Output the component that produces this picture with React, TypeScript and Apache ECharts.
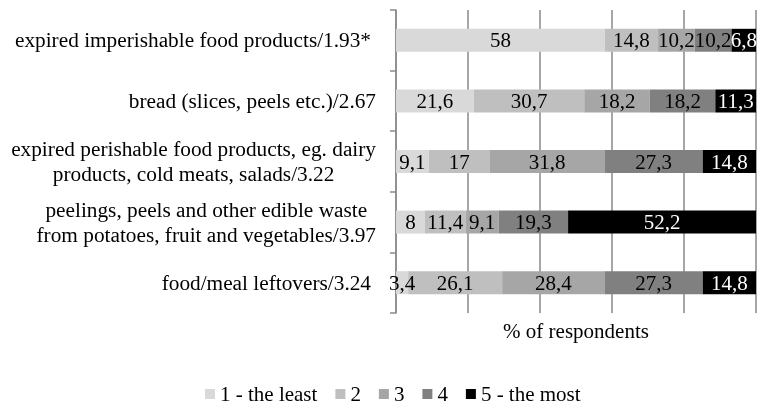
import React, { useEffect, useRef } from "react";
import * as echarts from "echarts";

const categories = [
  "expired imperishable food products/1.93*",
  "bread (slices, peels etc.)/2.67",
  "expired perishable food products, eg. dairy\nproducts, cold meats, salads/3.22",
  "peelings, peels and other edible waste\nfrom potatoes, fruit and vegetables/3.97",
  "food/meal leftovers/3.24",
];
const seriesNames = ["1 - the least", "2", "3", "4", "5 - the most"];
const s1 = [58, 21.6, 9.1, 8, 3.4];
const s2 = [14.8, 30.7, 17, 11.4, 26.1];
const s3 = [10.2, 18.2, 31.8, 9.1, 28.4];
const s4 = [10.2, 18.2, 27.3, 19.3, 27.3];
const s5 = [6.8, 11.3, 14.8, 52.2, 14.8];
const xTicks = [0, 20, 40, 60, 80, 100];

const colors = ["#d9d9d9", "#bfbfbf", "#a6a6a6", "#808080", "#000000"];
const labelColors = ["#000", "#000", "#000", "#000", "#fff"];
const FONT = "Liberation Serif";
const paddedLabels = [categories[0], categories[4]];

export default function App() {
  const ref = useRef<HTMLDivElement>(null);
  useEffect(() => {
    if (!ref.current) return;
    const chart = echarts.init(ref.current, undefined, { renderer: "svg" });
    const all = [s1, s2, s3, s4, s5];
    chart.setOption({
      animation: false,
      textStyle: { fontFamily: FONT },
      grid: { left: 396, right: 1, top: 10, bottom: 92, containLabel: false },
      legend: {
        data: seriesNames,
        left: 205,
        top: 383,
        padding: 0,
        itemGap: 18,
        itemWidth: 10,
        itemHeight: 10,
        icon: "rect",
        textStyle: { fontSize: 21, fontFamily: FONT, color: "#000", lineHeight: 22 },
      },
      xAxis: {
        type: "value",
        min: xTicks[0],
        max: xTicks[xTicks.length - 1],
        interval: 20,
        axisLabel: { show: false },
        axisLine: { show: false },
        axisTick: { show: false },
        splitLine: { show: true, lineStyle: { color: "#8a8a8a", width: 1.5 } },
        name: "% of respondents",
        nameLocation: "middle",
        nameGap: 7,
        nameTextStyle: { fontSize: 21, fontFamily: FONT, color: "#000" },
      },
      yAxis: {
        type: "category",
        data: categories,
        inverse: true,
        axisLine: { show: true, lineStyle: { color: "#8a8a8a", width: 1.5 } },
        axisTick: { show: true, length: 6, inside: false, lineStyle: { color: "#8a8a8a", width: 1.5 } },
        axisLabel: {
          interval: 0,
          margin: 20,
          formatter: (v: string) => {
            const st = paddedLabels.includes(v) ? "p" : "c";
            return v
              .split("\n")
              .map((l) => `{${st}|${l}}`)
              .join("\n");
          },
          rich: {
            c: { align: "center", fontSize: 21.3, lineHeight: 25, fontFamily: FONT, color: "#000" },
            p: { align: "center", fontSize: 21.3, lineHeight: 25, fontFamily: FONT, color: "#000", padding: [0, 5, 0, 0] },
          },
        },
      },
      series: all.map((d, i) => ({
        name: seriesNames[i],
        type: "bar",
        stack: "total",
        data: d,
        barWidth: 23,
        itemStyle: { color: colors[i] },
        label: {
          show: true,
          position: "inside",
          fontSize: 21,
          fontFamily: FONT,
          color: labelColors[i],
          formatter: (p: any) => String(p.value).replace(".", ","),
        },
      })),
    });
    return () => chart.dispose();
  }, []);
  return (
    <div
      ref={ref}
      style={{ position: "fixed", left: 0, top: 0, width: 757, height: 405 }}
    />
  );
}
